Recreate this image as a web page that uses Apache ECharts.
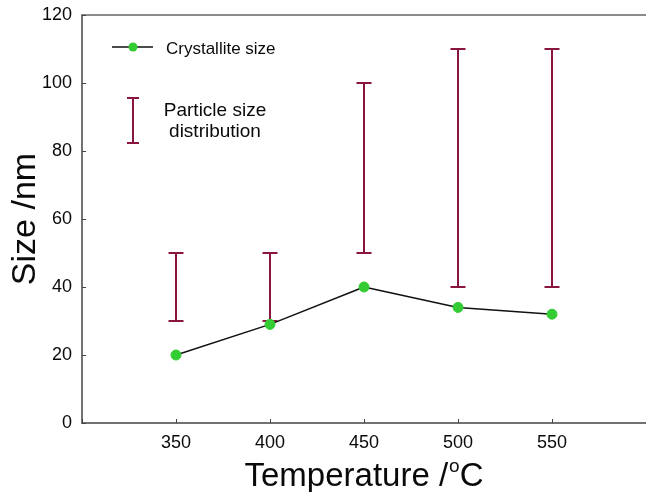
<!DOCTYPE html>
<html>
<head>
<meta charset="utf-8">
<script src="https://cdn.jsdelivr.net/npm/echarts@6/dist/echarts.min.js"></script>
<style>
html, body { margin: 0; padding: 0; background: #fff; }
#main { width: 646px; height: 492px; }
</style>
</head>
<body>
<div id="main"></div>
<script>
// temperatures (°C)
var temps = [350, 400, 450, 500, 550];
// crystallite size (nm)
var crystallite = [20, 29, 40, 34, 32];
// particle size distribution range (nm)
var psdLow = [30, 30, 50, 40, 40];
var psdHigh = [50, 50, 100, 110, 110];

var FONT = '"Liberation Sans", Arial, sans-serif';
var TEXT_COLOR = '#0a0a0a';
var BAR_COLOR = '#8a1540';
var DOT_COLOR = '#33cc33';

var chart = echarts.init(document.getElementById('main'));

var lineData = temps.map(function (t, i) { return [t, crystallite[i]]; });
var barData = temps.map(function (t, i) { return [t, psdLow[i], psdHigh[i]]; });

var options =
{
	backgroundColor: '#fff',
	animation: false,
	grid: { left: 82, right: 0, top: 15, bottom: 69, outerBoundsMode: 'none' },
	xAxis:
	[
		{
			type: 'value',
			min: 300,
			max: 600,
			interval: 50,
			name: '{n|Temperature /}{s|o}{n|C}',
			nameLocation: 'middle',
			nameGap: 34,
			nameMoveOverlap: false,
			nameTextStyle:
			{
				rich:
				{
					n: { fontFamily: FONT, fontSize: 33, color: TEXT_COLOR, verticalAlign: 'bottom', lineHeight: 36 },
					s: { fontFamily: FONT, fontSize: 19, color: TEXT_COLOR, verticalAlign: 'top', lineHeight: 36, padding: [0, 0, 14, 1] }
				}
			},
			axisLine: { onZero: false, lineStyle: { color: '#444', width: 1.5 } },
			axisTick: { inside: true, length: 4, lineStyle: { color: '#444' } },
			axisLabel:
			{
				fontFamily: FONT, fontSize: 18, color: TEXT_COLOR, margin: 11,
				formatter: function (v) { return (v === 300 || v === 600) ? '' : String(v); }
			},
			splitLine: { show: false }
		},
		{
			type: 'value',
			position: 'top',
			min: 300,
			max: 600,
			axisLine: { show: true, onZero: false, lineStyle: { color: '#666', width: 1.5 } },
			axisTick: { show: false },
			axisLabel: { show: false },
			splitLine: { show: false }
		}
	],
	yAxis:
	{
		type: 'value',
		min: 0,
		max: 120,
		interval: 20,
		name: 'Size /nm',
		nameLocation: 'middle',
		nameGap: 39,
		nameMoveOverlap: false,
		nameTextStyle: { fontFamily: FONT, fontSize: 34, color: TEXT_COLOR },
		axisLine: { show: true, lineStyle: { color: '#444', width: 1.5 } },
		axisTick: { inside: true, length: 4, lineStyle: { color: '#444' } },
		axisLabel: { fontFamily: FONT, fontSize: 18, color: TEXT_COLOR, margin: 10 },
		splitLine: { show: false }
	},
	series:
	[
		{
			name: 'Particle size distribution',
			type: 'custom',
			data: barData,
			renderItem: function (params, api)
			{
				var lo = api.coord([api.value(0), api.value(1)]);
				var hi = api.coord([api.value(0), api.value(2)]);
				var w = 7.5;
				var style = { stroke: BAR_COLOR, lineWidth: 2 };
				return {
					type: 'group',
					children:
					[
						{ type: 'line', shape: { x1: lo[0], y1: lo[1], x2: hi[0], y2: hi[1] }, style: style },
						{ type: 'line', shape: { x1: lo[0] - w, y1: lo[1], x2: lo[0] + w, y2: lo[1] }, style: style },
						{ type: 'line', shape: { x1: hi[0] - w, y1: hi[1], x2: hi[0] + w, y2: hi[1] }, style: style }
					]
				};
			},
			z: 2
		},
		{
			name: 'Crystallite size',
			type: 'line',
			data: lineData,
			symbol: 'circle',
			symbolSize: 10,
			lineStyle: { color: '#111', width: 1.5 },
			itemStyle: { color: DOT_COLOR, borderColor: DOT_COLOR },
			z: 3
		}
	],
	graphic:
	[
		// legend: crystallite size
		{ type: 'line', shape: { x1: 112, y1: 47, x2: 153, y2: 47 }, style: { stroke: '#111', lineWidth: 1.5 } },
		{ type: 'circle', shape: { cx: 133, cy: 47, r: 4.5 }, style: { fill: DOT_COLOR } },
		{ type: 'text', x: 166, y: 49, style: { text: 'Crystallite size', fontFamily: FONT, fontSize: 17, fill: TEXT_COLOR, verticalAlign: 'middle' } },
		// legend: particle size distribution
		{ type: 'line', shape: { x1: 133, y1: 98, x2: 133, y2: 143 }, style: { stroke: BAR_COLOR, lineWidth: 2 } },
		{ type: 'line', shape: { x1: 127, y1: 98, x2: 139, y2: 98 }, style: { stroke: BAR_COLOR, lineWidth: 2 } },
		{ type: 'line', shape: { x1: 127, y1: 143, x2: 139, y2: 143 }, style: { stroke: BAR_COLOR, lineWidth: 2 } },
		{ type: 'text', x: 215, y: 121, style: { text: 'Particle size\ndistribution', fontFamily: FONT, fontSize: 19, lineHeight: 21, fill: TEXT_COLOR, align: 'center', verticalAlign: 'middle' } }
	]
};

chart.setOption(options);
</script>
</body>
</html>
